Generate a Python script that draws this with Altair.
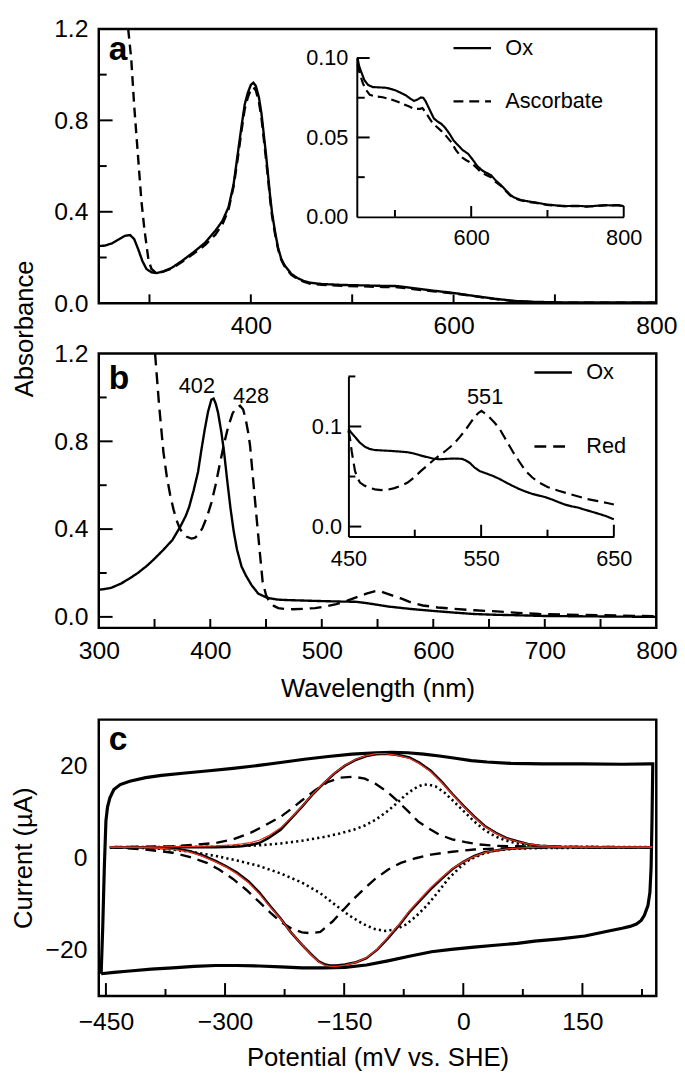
import altair as alt
import pandas as pd

FONT = "Liberation Sans"
W = 565
HA, HB, HC = 278, 278, 280
GAP_AB, GAP_BC = 51, 93
TA = 0
TB = TA + HA + GAP_AB
TC = TB + HB + GAP_BC
H = TC + HC

# ---------------- Panel a: main spectra ----------------
a_ox_wl = [250, 256, 263, 270, 276, 281, 285, 289, 293, 297, 302, 307, 313, 322, 333, 344, 355, 365, 372, 378,
           383, 387, 391, 394, 397, 400, 402.5, 405, 408, 410.5, 412.5, 415, 417, 419, 421, 424, 427, 430, 433,
           440, 446, 452, 458, 470, 490, 510, 530, 545, 560, 580, 600, 620, 640, 660, 680, 700, 750, 800]
a_ox_ab = [0.25, 0.252, 0.262, 0.28, 0.295, 0.298, 0.28, 0.235, 0.185, 0.15, 0.135, 0.132, 0.138, 0.155, 0.188,
           0.225, 0.265, 0.317, 0.36, 0.42, 0.52, 0.65, 0.78, 0.87, 0.92, 0.955, 0.965, 0.95, 0.90, 0.83, 0.75,
           0.65, 0.56, 0.47, 0.394, 0.31, 0.24, 0.195, 0.168, 0.128, 0.11, 0.098, 0.09, 0.084, 0.08, 0.078,
           0.076, 0.075, 0.066, 0.055, 0.045, 0.032, 0.02, 0.01, 0.006, 0.004, 0.003, 0.003]
a_asc_wl = [279, 282, 285, 288.6, 292, 295, 299, 302, 306, 313, 322, 333, 344, 355, 365, 372, 378, 383, 387,
            391, 394, 397, 400, 402.5, 405, 408, 410.5, 412.5, 415, 417, 419, 421, 424, 427, 430, 433, 440, 446,
            452, 458, 470, 490, 510, 530, 545, 560, 580, 600, 620, 640, 660, 680, 700, 750, 800]
a_asc_ab = [1.2, 1.07, 0.86, 0.65, 0.45, 0.324, 0.19, 0.15, 0.135, 0.137, 0.152, 0.183, 0.218, 0.255, 0.30,
            0.345, 0.41, 0.51, 0.63, 0.76, 0.85, 0.90, 0.935, 0.945, 0.93, 0.88, 0.81, 0.73, 0.63, 0.545, 0.455,
            0.38, 0.30, 0.235, 0.19, 0.163, 0.124, 0.106, 0.094, 0.086, 0.080, 0.076, 0.074, 0.071, 0.070, 0.062,
            0.052, 0.043, 0.031, 0.019, 0.009, 0.005, 0.003, 0.002, 0.002]

# ---------------- Panel a: inset ----------------
ai_ox_wl = [451, 453, 456, 460, 465, 471, 480, 488, 495, 501, 508, 514, 520, 525, 530, 534, 537, 540, 543, 547,
            551, 556, 561, 566, 572, 577, 583, 589, 596, 602, 608, 615, 621, 626, 632, 639, 645, 651, 656, 664,
            673, 685, 699, 712, 725, 738, 745, 750, 760, 770, 776, 785, 792, 800]
ai_ox_ab = [0.100, 0.095, 0.091, 0.086, 0.083, 0.0817, 0.0815, 0.0813, 0.0805, 0.0796, 0.078, 0.0766, 0.0745,
            0.073, 0.074, 0.0752, 0.075, 0.073, 0.070, 0.066, 0.062, 0.060, 0.0585, 0.056, 0.052, 0.048, 0.045,
            0.042, 0.0397, 0.036, 0.032, 0.029, 0.0275, 0.0263, 0.023, 0.020, 0.017, 0.014, 0.0123, 0.0108,
            0.0099, 0.009, 0.0078, 0.0072, 0.0068, 0.0070, 0.0068, 0.0066, 0.0068, 0.0072, 0.0074, 0.0072,
            0.0075, 0.0068]
ai_asc_wl = [451, 454, 458, 462, 467, 475, 484, 492, 501, 510, 518, 525, 533, 536, 540, 544, 548, 554, 561, 567,
             574, 580, 587, 594, 600, 607, 613, 619, 626, 632, 639, 645, 651, 656, 664, 673, 685, 699, 712, 725,
             738, 750, 760, 776, 792, 800]
ai_asc_ab = [0.096, 0.090, 0.084, 0.080, 0.0768, 0.0758, 0.0753, 0.0743, 0.073, 0.0712, 0.0696, 0.068, 0.068,
             0.0685, 0.066, 0.063, 0.060, 0.057, 0.054, 0.051, 0.047, 0.042, 0.0377, 0.0355, 0.034, 0.031, 0.028,
             0.0265, 0.025, 0.022, 0.0195, 0.0165, 0.0135, 0.012, 0.0105, 0.0095, 0.0088, 0.0076, 0.007, 0.0066,
             0.0068, 0.0065, 0.0067, 0.0072, 0.0073, 0.0067]

# ---------------- Panel b: main spectra ----------------
b_ox_wl = [300, 304, 311, 320, 327, 335, 343, 350, 358, 366, 373, 378, 381, 385, 389, 392, 395, 398, 401, 403,
           405, 407, 410, 412.4, 415, 418, 421, 424, 428, 432, 437, 443, 451, 460, 467, 480, 500, 520, 530, 540,
           550, 560, 580, 598, 620, 637, 656, 676, 700, 750, 800]
b_ox_ab = [0.124, 0.126, 0.132, 0.152, 0.173, 0.2, 0.232, 0.265, 0.306, 0.35, 0.41, 0.46, 0.50, 0.575, 0.66,
           0.76, 0.853, 0.935, 0.99, 0.995, 0.97, 0.93, 0.84, 0.75, 0.63, 0.50, 0.39, 0.306, 0.23, 0.188, 0.145,
           0.106, 0.087, 0.079, 0.077, 0.075, 0.072, 0.0695, 0.069, 0.063, 0.055, 0.047, 0.036, 0.028, 0.019,
           0.013, 0.0095, 0.0074, 0.004, 0.002, 0.0]
b_red_wl = [350.5, 354, 358, 361, 364, 367, 369.8, 372.5, 375.6, 379, 383, 386, 389, 393, 396.9, 401, 404.7,
            408.5, 412.4, 416, 420, 423.5, 426.7, 429.5, 431.8, 434, 435.7, 438, 441.5, 444.5, 447, 450, 453, 457,
            461, 467, 474, 484, 494, 504, 513, 523, 532.6, 540, 548, 552, 555.8, 563, 571, 580, 590.7, 604,
            617.8, 637, 656.6, 676, 695, 720, 753, 800]
b_red_ab = [1.2, 0.97, 0.75, 0.64, 0.557, 0.49, 0.44, 0.405, 0.38, 0.365, 0.357, 0.36, 0.372, 0.405, 0.454,
            0.52, 0.60, 0.695, 0.79, 0.865, 0.927, 0.955, 0.962, 0.945, 0.90, 0.84, 0.78, 0.65, 0.454, 0.29,
            0.158, 0.10, 0.069, 0.05, 0.04, 0.036, 0.035, 0.037, 0.04, 0.048, 0.058, 0.074, 0.092, 0.106, 0.117,
            0.118, 0.111, 0.098, 0.084, 0.066, 0.052, 0.043, 0.037, 0.03, 0.025, 0.018, 0.013, 0.01, 0.0074,
            0.003]

# ---------------- Panel b: inset ----------------
bi_ox_wl = [450, 452, 455, 458.5, 462.4, 466, 469.8, 476, 482, 488, 494.6, 500, 504.5, 509, 514.4, 519, 524, 530,
            535.4, 538.5, 541.6, 545, 549, 554, 559, 564, 568.8, 574, 578.7, 583.5, 588.6, 593.5, 598.5, 603.5,
            608.4, 613, 618.3, 623, 628, 633, 638, 644, 650]
bi_ox_ab = [0.0977, 0.094, 0.0896, 0.084, 0.0798, 0.0775, 0.0765, 0.076, 0.0756, 0.075, 0.0743, 0.0728, 0.071,
            0.0695, 0.0677, 0.0672, 0.0677, 0.068, 0.0677, 0.066, 0.0635, 0.059, 0.0554, 0.053, 0.0505, 0.0475,
            0.044, 0.0405, 0.0375, 0.035, 0.0326, 0.031, 0.0293, 0.027, 0.0244, 0.022, 0.0202, 0.019, 0.0169,
            0.015, 0.013, 0.0105, 0.0072]
bi_red_wl = [450, 451.3, 452.5, 454, 455, 457, 458.7, 462, 464.9, 470, 474.8, 480, 484.7, 490, 494.6, 499.5, 504.5,
             509.5, 514.4, 519, 524, 529, 534, 539, 544, 547.5, 550.2, 553, 556.4, 560, 563.9, 569, 573.8, 578.7,
             583.7, 588.6, 593.6, 600, 608.4, 616, 623.3, 630, 638, 645, 650]
bi_red_ab = [0.096, 0.087, 0.075, 0.063, 0.0554, 0.048, 0.044, 0.041, 0.039, 0.0372, 0.0365, 0.037, 0.0384, 0.041,
             0.044, 0.049, 0.0554, 0.061, 0.0668, 0.0715, 0.0765, 0.082, 0.0896, 0.098, 0.1075, 0.113, 0.1156,
             0.113, 0.109, 0.104, 0.0977, 0.086, 0.075, 0.065, 0.0554, 0.049, 0.044, 0.0395, 0.0358, 0.0328, 0.03,
             0.0275, 0.0254, 0.0235, 0.0221]

# peak labels
b_peak_wl = [388, 436.5]
b_peak_ab = [1.05, 1.005]
b_peak_txt = ["402", "428"]
bi_peak_wl = [553]
bi_peak_ab = [0.1296]
bi_peak_txt = ["551"]

# ---------------- Panel c: cyclic voltammetry ----------------
cv_raw_E = [-456, -454, -452, -450, -448, -445, -440, -432, -420, -400, -380, -350, -320, -290, -260, -230, -200,
            -170, -140, -110, -90, -70, -50, -30, -10, 10, 30, 60, 100, 150, 200, 236, 238.6, 237.6, 236.5, 235,
            232.5, 228, 224, 218, 210, 200, 180, 153, 122, 90, 68, 40, 13.6, -15, -40, -68, -95, -122, -149,
            -176, -203, -230, -257, -285, -312, -339, -366, -393, -420, -440, -456]
cv_raw_I = [-25.2, -15, -2, 8, 11.0, 13.0, 14.8, 15.9, 16.6, 17.4, 17.9, 18.4, 18.9, 19.4, 20.0, 20.7, 21.4, 22.0,
            22.5, 22.8, 22.9, 22.8, 22.5, 22.1, 21.6, 21.1, 20.8, 20.5, 20.4, 20.4, 20.3, 20.4, 20.4, 8, -2, -7.5,
            -10.4, -12.5, -13.6, -14.4, -14.9, -15.3, -16.0, -17.0, -17.6, -18.1, -18.6, -19.0, -19.4, -19.9,
            -20.4, -21.4, -22.4, -23.3, -23.8, -23.9, -23.9, -23.7, -23.5, -23.4, -23.4, -23.6, -23.9, -24.2,
            -24.6, -24.9, -25.2]

exp_ox_E = [-445, -400, -350, -312, -290, -279, -268, -257, -245, -230, -217, -203, -190, -176, -163, -149, -135,
            -122, -110, -98, -85, -68, -55, -41, -27, -14, 0, 14, 27, 41, 54, 68, 81, 95, 122, 160, 238]
exp_ox_I = [2.3, 2.3, 2.3, 2.3, 2.4, 2.5, 2.8, 3.2, 4.3, 6.1, 8.5, 11.1, 13.7, 16.1, 18.2, 20.0, 21.3, 22.1, 22.5,
            22.6, 22.4, 21.8, 20.6, 18.9, 16.5, 13.9, 11.3, 8.9, 6.9, 5.4, 4.3, 3.6, 3.0, 2.6, 2.4, 2.3, 2.3]
exp_red_E = [-445, -400, -377, -360, -344, -328, -312, -298, -285, -270, -257, -244, -230, -217, -203, -192, -182,
             -175, -168, -160, -149, -135, -122, -108, -95, -81, -68, -54, -41, -27, -14, 0, 14, 27, 41, 54, 68,
             95, 238]
exp_red_I = [2.3, 2.3, 2.1, 1.9, 1.4, 0.5, -0.7, -1.9, -3.2, -5.2, -7.5, -10.3, -13.2, -16.2, -18.9, -20.9, -22.5,
             -23.1, -23.4, -23.4, -23.2, -22.7, -21.8, -19.9, -17.5, -14.7, -11.8, -9.2, -6.8, -4.5, -2.5, -0.9,
             0.4, 1.2, 1.6, 1.9, 2.1, 2.3, 2.3]

fit_ox_I = [2.3, 2.3, 2.4, 2.6, 2.8, 3.0, 3.3, 3.8, 4.8, 6.5, 8.7, 11.2, 13.8, 16.2, 18.3, 20.1, 21.4, 22.2, 22.6,
            22.6, 22.3, 21.6, 20.4, 18.7, 16.3, 13.8, 11.2, 8.8, 6.8, 5.3, 4.2, 3.5, 3.0, 2.7, 2.4, 2.3, 2.3]
fit_red_I = [2.3, 2.2, 2.0, 1.7, 1.2, 0.3, -0.9, -2.1, -3.5, -5.5, -7.8, -10.5, -13.3, -16.2, -18.9, -21.0, -22.6,
             -23.3, -23.6, -23.6, -23.3, -22.7, -21.7, -19.8, -17.3, -14.5, -11.6, -8.9, -6.5, -4.3, -2.4, -0.9,
             0.3, 1.1, 1.6, 1.9, 2.1, 2.3, 2.3]

d1_ox_E = [-445, -400, -366, -340, -312, -290, -268, -250, -230, -216, -203, -187, -171, -155, -138, -124, -111,
           -97, -84, -70, -57, -43, -30, -14, 2.7, 20, 40.7, 68, 95, 150, 238]
d1_ox_I = [2.3, 2.4, 2.5, 2.8, 3.2, 4.0, 5.4, 7.0, 8.9, 10.7, 12.5, 14.6, 16.4, 17.4, 17.6, 17.2, 16.1, 14.5, 12.5,
           10.2, 7.9, 6.3, 5.0, 4.0, 3.4, 2.9, 2.6, 2.5, 2.4, 2.35, 2.3]
d1_red_E = [-445, -400, -366, -345, -323, -307, -290, -273, -257, -243, -230, -216, -203, -192, -180, -165, -152,
            -138, -124, -111, -95, -78.6, -60, -40.7, -14, 13.6, 40, 67.8, 120, 238]
d1_red_I = [2.3, 1.8, 1.1, 0.2, -1.1, -2.6, -4.6, -7.0, -9.6, -11.9, -13.9, -15.4, -16.2, -16.4, -16.1, -13.9,
            -11.5, -8.9, -6.6, -4.6, -2.6, -1.1, -0.1, 0.7, 1.3, 1.8, 2.0, 2.1, 2.25, 2.3]

d2_ox_E = [-445, -312, -257, -230, -203, -176, -157, -138, -124, -111, -97, -84, -73, -62, -55, -49, -42, -35, -24,
           -13.6, 0, 13.6, 27, 40.7, 54, 67.8, 95, 122, 238]
d2_ox_I = [2.3, 2.4, 2.7, 3.1, 3.7, 4.5, 5.2, 6.1, 7.0, 8.2, 9.9, 11.8, 13.6, 15.0, 15.6, 15.9, 15.8, 15.5, 14.2,
           12.5, 10.2, 7.9, 6.0, 4.6, 3.7, 3.1, 2.6, 2.4, 2.3]
d2_red_E = [-445, -400, -366, -340, -312, -285, -257, -230, -203, -180, -160, -143, -127, -113, -100, -86, -73,
            -60, -46, -32, -19, -5, 8, 24, 40.7, 67, 95, 238]
d2_red_I = [2.3, 2.1, 1.8, 1.2, 0.4, -0.6, -1.8, -3.4, -5.4, -7.7, -10.4, -12.6, -14.3, -15.4, -15.9, -15.6, -14.6,
            -12.8, -10.4, -7.5, -4.6, -2.2, -0.4, 0.8, 1.6, 2.0, 2.1, 2.3]

# axis extents of each panel (domain corners used for the frames)
a_xdom, a_ydom = [250, 800], [0, 1.2]
b_xdom, b_ydom = [300, 800], [-0.05, 1.2]
c_xdom, c_ydom = [-459, 243], [-30, 30]


def mk(xs, ys, name, xf, yf):
    return pd.DataFrame({xf: xs, yf: ys, "s": name, "o": list(range(len(xs)))})


class Panel:
    """Holds shared scale + axis definitions so every layer of a panel uses identical specs."""

    def __init__(self, xf, yf, sx, sy, ax, ay):
        self.xf, self.yf, self.sx, self.sy, self.ax, self.ay = xf, yf, sx, sy, ax, ay

    def X(self):
        return alt.X(f"{self.xf}:Q", scale=self.sx, axis=self.ax)

    def Y(self):
        return alt.Y(f"{self.yf}:Q", scale=self.sy, axis=self.ay)

    def rule_x(self, values, ybase, length, width=2):
        return alt.Chart(pd.DataFrame({self.xf: values})).mark_rule(color="black", strokeWidth=width).encode(
            x=self.X(), y=alt.value(ybase), y2=alt.value(ybase - length))

    def rule_y(self, values, xbase, length, width=2):
        return alt.Chart(pd.DataFrame({self.yf: values})).mark_rule(color="black", strokeWidth=width).encode(
            y=self.Y(), x=alt.value(xbase), x2=alt.value(xbase + length))

    def frame(self, xdom, ydom):
        df = pd.DataFrame({self.xf: [xdom[0]], "x_end": [xdom[1]], self.yf: [ydom[0]], "y_end": [ydom[1]]})
        return alt.Chart(df).mark_rect(fillOpacity=0, stroke="black", strokeWidth=2.5).encode(
            x=self.X(), x2="x_end:Q", y=self.Y(), y2="y_end:Q")

    def text(self, xs, ys, ts, **kw):
        df = pd.DataFrame({self.xf: xs, self.yf: ys, "t": ts})
        return alt.Chart(df).mark_text(font=FONT, color="black", **kw).encode(x=self.X(), y=self.Y(), text="t:N")

    def letter(self, xv, yv, t, dy):
        return self.text([xv], [yv], [t], align="left", baseline="alphabetic", dx=10, dy=dy, fontSize=34,
                         fontWeight="bold")


def legend(x, y, rowpad):
    return alt.Legend(title=None, orient="none", legendX=x, legendY=y, symbolType="stroke", symbolSize=1444,
                      symbolStrokeWidth=2.4, symbolStrokeColor="black", labelFont=FONT, labelFontSize=22,
                      labelColor="black", labelOffset=13, rowPadding=rowpad, padding=0)


common_axis = dict(labelFlush=False, labelOverlap=False, ticks=False, tickSize=0)
inset_axis = dict(domain=True, domainColor="black", domainWidth=2, labelFontSize=22, title=None, **common_axis)

# ================= Panel A =================
pa = Panel("wl", "ab",
           alt.Scale(domain=a_xdom, range=[0, W], nice=False, zero=False),
           alt.Scale(domain=a_ydom, range=[TA + HA, TA], nice=False, zero=False),
           alt.Axis(orient="bottom", offset=-(H - (TA + HA)), values=[400, 600, 800], format="d",
                    labelPadding=11, title=None, **common_axis),
           alt.Axis(orient="left", values=[0, 0.4, 0.8, 1.2], format=".1f", labelPadding=11,
                    title="Absorbance", titleX=-62, titleY=TA + (HA + GAP_AB + HB) / 2, **common_axis))
a_df = pd.concat([mk(a_ox_wl, a_ox_ab, "Ox", "wl", "ab"), mk(a_asc_wl, a_asc_ab, "Ascorbate", "wl", "ab")])
a_lines = alt.Chart(a_df).mark_line(color="black", strokeWidth=2.4).encode(
    x=pa.X(), y=pa.Y(),
    strokeDash=alt.StrokeDash("s:N", scale=alt.Scale(domain=["Ox", "Ascorbate"], range=[[1, 0], [10, 6]]),
                              legend=legend(358, TA - 1, 22)),
    order="o:Q")
a_main = alt.layer(a_lines,
                   pa.frame(a_xdom, a_ydom),
                   pa.rule_x([300, 400, 500, 600, 700], TA + HA, 9),
                   pa.rule_y([0.4, 0.8], 0, 14),
                   pa.rule_y([0.2, 0.6, 1.0], 0, 8),
                   pa.letter(250, 1.2, "a", 32))

AI_X0, AI_X1, AI_Y0, AI_Y1 = 261.5, 532, TA + 190.5, TA + 29.5
pai = Panel("wl", "ab",
            alt.Scale(domain=[450, 800], range=[AI_X0, AI_X1], nice=False, zero=False),
            alt.Scale(domain=[0, 0.10], range=[AI_Y0, AI_Y1], nice=False, zero=False),
            alt.Axis(orient="bottom", offset=-(H - AI_Y0), values=[600, 800], format="d", labelPadding=11,
                     **inset_axis),
            alt.Axis(orient="left", offset=-AI_X0, values=[0, 0.05, 0.10], format=".2f", labelPadding=9,
                     **inset_axis))
ai_df = pd.concat([mk(ai_ox_wl, ai_ox_ab, "Ox", "wl", "ab"), mk(ai_asc_wl, ai_asc_ab, "Ascorbate", "wl", "ab")])
ai_lines = alt.Chart(ai_df).mark_line(color="black", strokeWidth=2.2).encode(
    x=pai.X(), y=pai.Y(),
    strokeDash=alt.StrokeDash("s:N", scale=alt.Scale(domain=["Ox", "Ascorbate"], range=[[1, 0], [9, 5]]),
                              legend=None),
    order="o:Q")
a_inset = alt.layer(ai_lines,
                    pai.rule_x([600, 800], AI_Y0, 11),
                    pai.rule_x([500, 700], AI_Y0, 7),
                    pai.rule_y([0.05, 0.10], AI_X0, 13),
                    pai.rule_y([0.025, 0.075], AI_X0, 8))

# ================= Panel B =================
pb = Panel("wl", "ab",
           alt.Scale(domain=b_xdom, range=[0, W], nice=False, zero=False),
           alt.Scale(domain=b_ydom, range=[TB + HB, TB], nice=False, zero=False),
           alt.Axis(orient="bottom", offset=-(H - (TB + HB)), values=[300, 400, 500, 600, 700, 800],
                    format="d", labelPadding=11, title="Wavelength (nm)", titleY=49, **common_axis),
           alt.Axis(orient="left", values=[0, 0.4, 0.8, 1.2], format=".1f", labelPadding=11, title=None,
                    **common_axis))
b_df = pd.concat([mk(b_ox_wl, b_ox_ab, "Ox", "wl", "ab"), mk(b_red_wl, b_red_ab, "Red", "wl", "ab")])
b_lines = alt.Chart(b_df).mark_line(color="black", strokeWidth=2.4).encode(
    x=pb.X(), y=pb.Y(),
    strokeDash=alt.StrokeDash("s:N", scale=alt.Scale(domain=["Ox", "Red"], range=[[1, 0], [12, 7]]),
                              legend=legend(440, TB - 1.3, 43)),
    order="o:Q")
b_main = alt.layer(b_lines,
                   pb.frame(b_xdom, b_ydom),
                   pb.rule_x([350, 400, 450, 500, 550, 600, 650, 700, 750], TB + HB, 9),
                   pb.rule_y([0.0, 0.4, 0.8], 0, 14),
                   pb.rule_y([0.2, 0.6, 1.0], 0, 8),
                   pb.letter(300, 1.2, "b", 36),
                   pb.text(b_peak_wl, b_peak_ab, b_peak_txt, align="center", baseline="middle", fontSize=22))

BI_X0, BI_X1, BI_Y0, BI_Y1 = 253, 522, TB + 185.5, TB + 23.2
pbi = Panel("wl", "ab",
            alt.Scale(domain=[450, 650], range=[BI_X0, BI_X1], nice=False, zero=False),
            alt.Scale(domain=[-0.01, 0.15], range=[BI_Y0, BI_Y1], nice=False, zero=False),
            alt.Axis(orient="bottom", offset=-(H - BI_Y0), values=[450, 550, 650], format="d", labelPadding=12,
                     **inset_axis),
            alt.Axis(orient="left", offset=-BI_X0, values=[0, 0.1], format=".1f", labelPadding=7,
                     **inset_axis))
bi_df = pd.concat([mk(bi_ox_wl, bi_ox_ab, "Ox", "wl", "ab"), mk(bi_red_wl, bi_red_ab, "Red", "wl", "ab")])
bi_lines = alt.Chart(bi_df).mark_line(color="black", strokeWidth=2.2).encode(
    x=pbi.X(), y=pbi.Y(),
    strokeDash=alt.StrokeDash("s:N", scale=alt.Scale(domain=["Ox", "Red"], range=[[1, 0], [11, 6]]),
                              legend=None),
    order="o:Q")
b_inset = alt.layer(bi_lines,
                    pbi.rule_x([550, 650], BI_Y0, 12),
                    pbi.rule_x([500, 600], BI_Y0, 7),
                    pbi.rule_y([0.0, 0.1], BI_X0, 13),
                    pbi.rule_y([0.05, 0.15], BI_X0, 7),
                    pbi.text(bi_peak_wl, bi_peak_ab, bi_peak_txt, align="center", baseline="middle",
                             fontSize=22))

# ================= Panel C =================
pc = Panel("E", "I",
           alt.Scale(domain=c_xdom, range=[0, W], nice=False, zero=False),
           alt.Scale(domain=c_ydom, range=[TC + HC, TC], nice=False, zero=False),
           alt.Axis(orient="bottom", values=[-450, -300, -150, 0, 150], format="d", labelPadding=14,
                    title="Potential (mV vs. SHE)", titleY=50, **common_axis),
           alt.Axis(orient="left", values=[-20, 0, 20], format="d", labelPadding=12, title="Current (µA)",
                    titleX=-63, **common_axis))

raw_df = mk(cv_raw_E, cv_raw_I, "raw", "E", "I")
exp_df = pd.concat([mk(exp_ox_E, exp_ox_I, "ox", "E", "I"), mk(exp_red_E, exp_red_I, "red", "E", "I")])
fit_df = pd.concat([mk(exp_ox_E, fit_ox_I, "ox", "E", "I"), mk(exp_red_E, fit_red_I, "red", "E", "I")])
d1_df = pd.concat([mk(d1_ox_E, d1_ox_I, "ox", "E", "I"), mk(d1_red_E, d1_red_I, "red", "E", "I")])
d2_df = pd.concat([mk(d2_ox_E, d2_ox_I, "ox", "E", "I"), mk(d2_red_E, d2_red_I, "red", "E", "I")])


def cv_layer(df, **mk_kw):
    return alt.Chart(df).mark_line(**mk_kw).encode(x=pc.X(), y=pc.Y(), detail="s:N", order="o:Q")


panel_c = alt.layer(
    cv_layer(raw_df, color="black", strokeWidth=3.2),
    cv_layer(exp_df, color="black", strokeWidth=2.6),
    cv_layer(d1_df, color="black", strokeWidth=2.4, strokeDash=[11, 7]),
    cv_layer(d2_df, color="black", strokeWidth=2.6, strokeDash=[2.2, 3.2]),
    cv_layer(fit_df, color="#e8321e", strokeWidth=1.3),
    pc.frame(c_xdom, c_ydom),
    pc.rule_x([-450, -300, -150, 0, 150], TC + HC, 13),
    pc.rule_x([-375, -225, -75, 75, 225], TC + HC, 7),
    pc.letter(-459, 30, "c", 31),
)

chart = alt.layer(a_main, a_inset, b_main, b_inset, panel_c).resolve_scale(
    x="independent", y="independent", strokeDash="independent"
).properties(
    width=W, height=H, padding={"left": 3, "top": 2, "right": 0, "bottom": 0}
).configure_view(stroke="transparent").configure_axis(
    labelFont=FONT, titleFont=FONT, labelColor="black", titleColor="black", grid=False, ticks=False,
    tickSize=0, domain=False, labelFontSize=25, titleFontSize=26, titleFontWeight="normal",
    labelFlush=False, labelOverlap=False
)

chart.save("out.html", embed_options={"renderer": "svg", "actions": False})
